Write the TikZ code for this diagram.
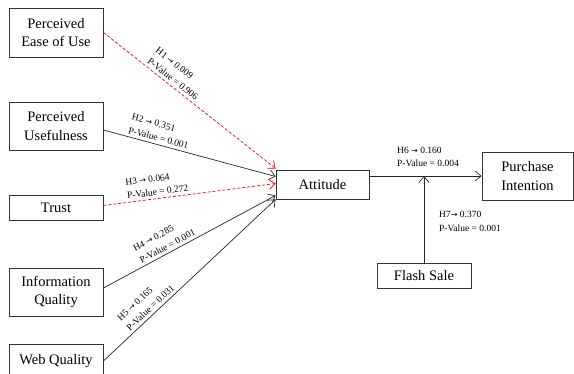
\documentclass[tikz,border=0pt]{standalone}
\usepackage{fontspec}
\setmainfont{Liberation Serif}
\newfontfamily\arrowfont{DejaVu Sans}
\usetikzlibrary{arrows.meta}
\newcommand{\harrow}{{\arrowfont\fontsize{8}{10}\selectfont →}}

\tikzset{
  construct/.style={draw=black!80, line width=0.8pt, minimum width=94pt,
    inner sep=0pt, align=center, font=\fontsize{14.5}{18.5}\selectfont},
  sig/.style={draw=black!85, line width=0.7pt,
    -{Straight Barb[length=6pt,width=10pt]}},
  nonsig/.style={sig, draw=red, dash pattern=on 3pt off 2pt},
  coef/.style={font=\fontsize{9.5}{13.5}\selectfont, align=left, inner sep=1pt}
}

\begin{document}
\begin{tikzpicture}[x=1pt, y=-1pt]
            \useasboundingbox (0, 0) rectangle (574, 374);
            % constructs
            \node[construct, minimum height=49pt] (peou) at (56, 32.5) {Perceived\\Ease of Use};
            \node[construct, minimum height=48pt] (pu) at (56, 126) {Perceived\\Usefulness};
            \node[construct, minimum height=25pt] (trust) at (56, 207.5) {Trust};
            \node[construct, minimum height=48pt] (iq) at (56, 292) {Information\\Quality};
            \node[construct, minimum height=34pt] (wq) at (56, 361) {Web Quality};
            \node[construct, minimum width=93pt, minimum height=29pt] (att) at (322.5, 184.5) {Attitude};
            \node[construct, minimum width=91pt, minimum height=48pt] (pi) at (527.5, 176) {Purchase\\Intention};
            \node[construct, minimum height=25pt] (fs) at (424, 275.5) {Flash Sale};
            % paths into attitude
            \draw[nonsig] (peou.east) -- node[coef, sloped, above=2pt, pos=.38] {H1 \harrow\ 0.009\\P-Value = 0.906} ([yshift=16pt]att.west);
            \draw[sig] ([yshift=-4pt]pu.east) -- node[coef, sloped, above=2pt, pos=.31] {H2 \harrow\ 0.351\\P-Value = 0.001} ([yshift=8pt]att.west);
            \draw[nonsig] ([yshift=2pt]trust.east) -- node[coef, sloped, above=2pt, pos=.32] {H3 \harrow\ 0.064\\P-Value = 0.272} ([yshift=1pt]att.west);
            \draw[sig] ([yshift=4pt]iq.east) -- node[coef, sloped, above=2pt, pos=.39] {H4 \harrow\ 0.285\\P-Value = 0.001} ([yshift=-11pt]att.west);
            \draw[sig] (wq.east) -- node[coef, sloped, above=2pt, pos=.30] {H5 \harrow\ 0.165\\P-Value = 0.031} (att.south west);
            % attitude to intention, moderated by flash sale
            \draw[sig] (att.east |- pi.west) -- (pi.west);
            \draw[sig] (fs.north) -- (fs.north |- pi.west);
            \node[coef, anchor=west] (h6) at (396, 157) {H6 \harrow\ 0.160\\P-Value = 0.004};
            \node[coef, anchor=west] (h7) at (438, 221.5) {H7\harrow\ 0.370\\P-Value = 0.001};
        \end{tikzpicture}
\end{document}
